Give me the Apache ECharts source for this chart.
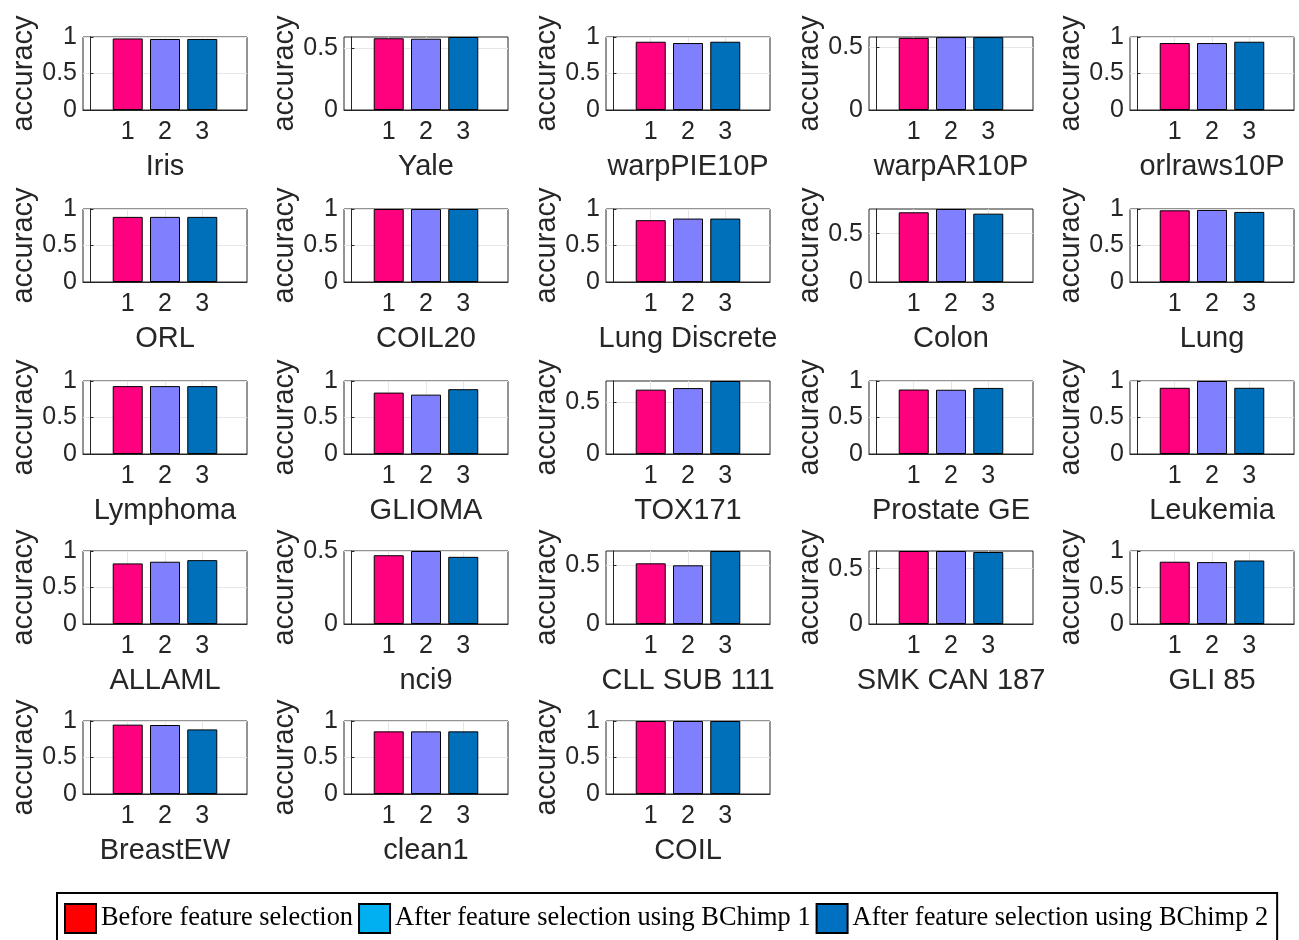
<!DOCTYPE html>
<html>
<head>
<meta charset="utf-8">
<script src="https://cdn.jsdelivr.net/npm/echarts@6/dist/echarts.min.js"></script>
<style>
html,body{margin:0;padding:0;background:#fff;}
#chart{width:1299px;height:940px;}
</style>
</head>
<body>
<div id="chart"></div>
<script>
// ---- data ----
const datasets = ["Iris","Yale","warpPIE10P","warpAR10P","orlraws10P",
  "ORL","COIL20","Lung Discrete","Colon","Lung",
  "Lymphoma","GLIOMA","TOX171","Prostate GE","Leukemia",
  "ALLAML","nci9","CLL SUB 111","SMK CAN 187","GLI 85",
  "BreastEW","clean1","COIL"];
const beforeFS = [0.98,0.58,0.935,0.578,0.917, 0.892,1.0,0.847,0.721,0.982, 0.93,0.841,0.617,0.883,0.907, 0.83,0.471,0.517,0.659,0.853, 0.95,0.858,1.0];
const bchimp1  = [0.973,0.576,0.917,0.584,0.917, 0.892,1.0,0.869,0.755,0.987, 0.93,0.813,0.632,0.88,1.0, 0.853,0.5,0.5,0.659,0.848, 0.945,0.858,1.0];
const bchimp2  = [0.973,0.59,0.935,0.584,0.935, 0.892,1.0,0.869,0.707,0.96, 0.93,0.888,0.70,0.905,0.907, 0.875,0.46,0.622,0.65,0.87, 0.885,0.858,1.0];
const yMax     = [1,0.59,1,0.585,1, 1,1,1,0.755,1, 1,1,0.70,1,1, 1,0.5,0.622,0.659,1, 1,1,1];
const xTicks = [1,2,3];
const yTickCandidates = [0,0.5,1];
const legendNames = ["Before feature selection","After feature selection using BChimp 1","After feature selection using BChimp 2"];
const barColors = ["#FF007F","#8080FF","#0070BA"];
const legendColors = ["#FF0000","#00B0F0","#0070C0"];

// ---- layout ----
const colLeft = [83,344,606,869,1130];
const rowTop = [37,209,381,551,721];
const gw = 164, gh = 73;
const textColor = "#262626";

const grids = [], xAxes = [], yAxes = [], series = [];
datasets.forEach((name, i) => {
  const r = Math.floor(i/5), c = i%5;
  grids.push({left: colLeft[c], top: rowTop[r], width: gw, height: gh,
    show: true, borderColor: textColor, borderWidth: 1, backgroundColor: "#fff"});
  xAxes.push({type: "value", gridIndex: i, min: -0.2, max: 4.2,
    name: name, nameLocation: "middle", nameGap: 42,
    nameTextStyle: {fontFamily: "Liberation Sans", fontSize: 29, color: textColor},
    axisLine: {show: true, lineStyle: {color: textColor, width: 1}},
    axisTick: {show: true, inside: true, length: 3, customValues: xTicks, lineStyle: {color: textColor}},
    axisLabel: {customValues: xTicks, margin: 10, fontFamily: "Liberation Sans", fontSize: 25, color: textColor},
    splitLine: {show: true, lineStyle: {color: "#e6e6e6", width: 1}}
  });
  const yt = yTickCandidates.filter(v => v <= yMax[i] + 1e-9);
  yAxes.push({type: "value", gridIndex: i, min: 0, max: yMax[i],
    name: "accuracy", nameLocation: "middle", nameGap: 44, nameRotate: 90,
    nameTextStyle: {fontFamily: "Liberation Sans", fontSize: 29, color: textColor},
    axisLine: {show: true, lineStyle: {color: textColor, width: 1}},
    axisTick: {show: true, inside: true, length: 3, customValues: yt, lineStyle: {color: textColor}},
    axisLabel: {customValues: yt, margin: 6, fontFamily: "Liberation Sans", fontSize: 25, color: textColor},
    splitLine: {show: true, lineStyle: {color: "#e6e6e6", width: 1}}
  });
  const vals = [beforeFS[i], bchimp1[i], bchimp2[i]];
  vals.forEach((v, k) => {
    series.push({type: "bar", name: legendNames[k], xAxisIndex: i, yAxisIndex: i,
      data: [[xTicks[k], v]], barWidth: 30, barGap: "-100%",
      itemStyle: {color: barColors[k], borderColor: "#000", borderWidth: 1},
      emphasis: {disabled: true}, animation: false});
  });
});

const option = {
  backgroundColor: "#fff",
  animation: false,
  grid: grids, xAxis: xAxes, yAxis: yAxes, series: series,
  legend: {
    left: 57, top: 893,
    padding: [10, 9, 20, 7],
    itemGap: 5, itemWidth: 31, itemHeight: 29,
    borderColor: "#000", borderWidth: 2, backgroundColor: "#fff",
    selectedMode: false,
    textStyle: {fontFamily: "Liberation Serif", fontSize: 26.4, color: "#000"},
    data: legendNames.map((n, k) => ({name: n, icon: "rect",
      itemStyle: {color: legendColors[k], borderColor: "#000", borderWidth: 2}}))
  }
};
const chart = echarts.init(document.getElementById("chart"), null, {renderer: "canvas"});
chart.setOption(option);
</script>
</body>
</html>
